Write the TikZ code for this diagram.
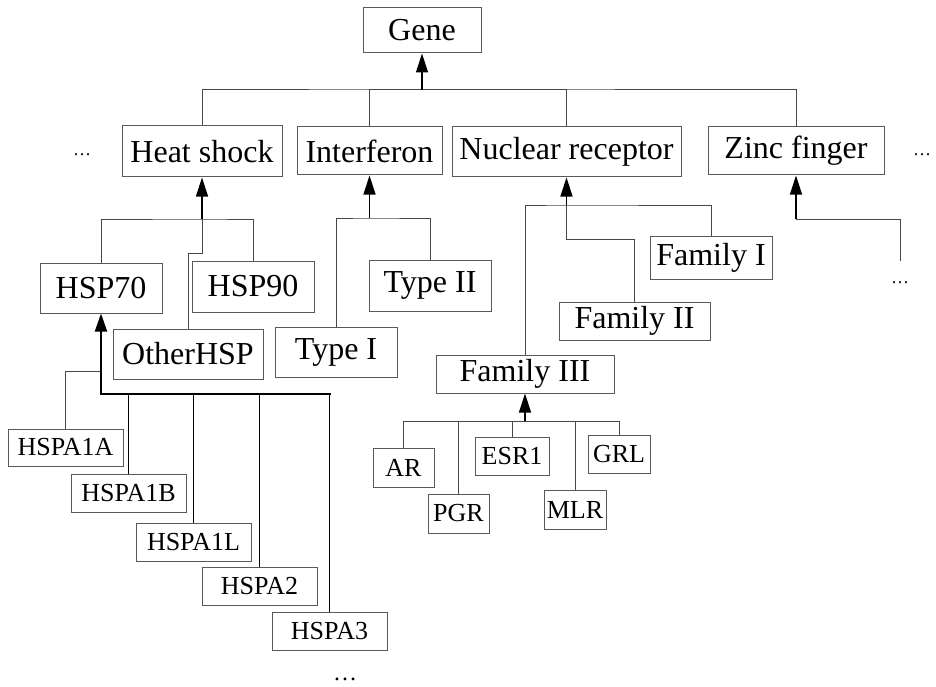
\documentclass[tikz,border=0pt]{standalone}
\usepackage{fontspec}
\setmainfont{Liberation Serif}
\usetikzlibrary{arrows.meta}

\begin{document}
\begin{tikzpicture}[x=1pt,y=-1pt,
  box/.style={draw=black!65, line width=1pt, fill=white, inner sep=0pt, align=center},
  big/.style={box, font=\fontsize{32}{36}\selectfont},
  small/.style={box, font=\fontsize{26}{30}\selectfont},
  conn/.style={draw=black!72, line width=1pt},
  arr/.style={draw=black, line width=1.3pt, -{Triangle[length=19pt,width=12pt]}},
  thickarr/.style={draw=black, line width=2pt, -{Triangle[length=18pt,width=12pt]}},
  dots/.style={font=\fontsize{18}{20}\selectfont, inner sep=0pt}
]
\useasboundingbox (0,0) rectangle (936,687);

% ---- root and top level families ----
\node[big, minimum width=118pt, minimum height=45pt] (gene) at (422,30.5) {Gene};
\node[big, minimum width=160pt, minimum height=51pt] (hs)   at (202,151.5) {Heat shock};
\node[big, minimum width=145pt, minimum height=48pt] (ifn)  at (369.5,151) {Interferon};
\node[big, minimum width=229pt, minimum height=50pt] (nr)   at (566.5,152) {Nuclear receptor};
\node[big, minimum width=176pt, minimum height=48pt] (zf)   at (796,151) {Zinc finger};
\node[dots] (dl) at (82,155) {…};
\node[dots] (dr) at (922,155) {…};

% ---- heat shock subfamilies ----
\node[big, minimum width=122pt, minimum height=50pt] (hsp70) at (101,288) {HSP70};
\node[big, minimum width=122pt, minimum height=51pt] (hsp90) at (253,286.5) {HSP90};
\node[big, minimum width=150pt, minimum height=50pt] (oth)   at (188,354) {OtherHSP};

% ---- interferon types ----
\node[big, minimum width=122pt, minimum height=51pt] (t2) at (430,285.5) {Type II};
\node[big, minimum width=122pt, minimum height=50pt] (t1) at (336,352) {Type I};

% ---- nuclear receptor families ----
\node[big, minimum width=122pt, minimum height=43pt] (f1) at (711,257.5) {Family I};
\node[big, minimum width=151pt, minimum height=38pt] (f2) at (634.5,321) {Family II};
\node[big, minimum width=178pt, minimum height=38pt] (f3) at (525,374) {Family III};

% ---- HSP70 members ----
\node[small, minimum width=115pt, minimum height=37pt] (a1a) at (65.5,447.5) {HSPA1A};
\node[small, minimum width=115pt, minimum height=38pt] (a1b) at (128.5,493) {HSPA1B};
\node[small, minimum width=115pt, minimum height=38pt] (a1l) at (193.5,542) {HSPA1L};
\node[small, minimum width=115pt, minimum height=38pt] (a2)  at (259.5,586) {HSPA2};
\node[small, minimum width=115pt, minimum height=38pt] (a3)  at (329.5,631) {HSPA3};
\node[dots, font=\fontsize{24}{26}\selectfont] (db) at (345,679) {…};

% ---- family III members ----
\node[small, minimum width=61pt, minimum height=39pt] (ar)   at (403.5,467.5) {AR};
\node[small, minimum width=61pt, minimum height=39pt] (pgr)  at (458.5,513.5) {PGR};
\node[small, minimum width=74pt, minimum height=38pt] (esr)  at (512,456) {ESR1};
\node[small, minimum width=62pt, minimum height=39pt] (mlr)  at (575,509.5) {MLR};
\node[small, minimum width=62pt, minimum height=38pt] (grl)  at (619,454) {GRL};
\node[dots] (dz) at (900,283) {…};

% ---- bus junctions ----
\coordinate (gbus)  at (422,90);
\coordinate (hsbus) at (202,219);
\coordinate (hsjog) at (202,253);
\coordinate (ifbus) at (369.5,218);
\coordinate (nrbus) at (566.5,205);
\coordinate (nrjog) at (566.5,239);
\coordinate (zfbus) at (796,219);
\coordinate (zfend) at (900,261);
\coordinate (h7bus) at (101,394);
\coordinate (h7end) at (329.5,394);
\coordinate (h7a)   at (101,371);
\coordinate (f3bus) at (525,421);

% Gene level
\draw[conn] (hs.north) |- (gbus) -| (zf.north);
\draw[conn] (ifn.north) |- (gbus);
\draw[conn] (nr.north) |- (gbus);
\draw[arr] (gbus) -- (gene.south);

% Heat shock level
\draw[conn] (hsp70.north) |- (hsbus) -| (hsp90.north);
\draw[conn] (hsbus) -- (hsjog) -| (oth.north);
\draw[arr] (hsbus) -- (hs.south);

% Interferon level
\draw[conn] (t1.north) |- (ifbus) -| (t2.north);
\draw[arr] (ifbus) -- (ifn.south);

% Nuclear receptor level
\draw[conn] (f3.north) |- (nrbus) -| (f1.north);
\draw[conn] (nrbus) -- (nrjog) -| (f2.north);
\draw[arr] (nrbus) -- (nr.south);

% Zinc finger level
\draw[conn] (zfbus) -| (zfend);
\draw[arr] (zfbus) -- (zf.south);

% HSP70 members
\draw[conn] (h7a) -| (a1a.north);
\draw[black, line width=1pt] (a1b.north) |- (h7bus);
\draw[black, line width=1pt] (a1l.north) |- (h7bus);
\draw[black, line width=1pt] (a2.north) |- (h7bus);
\draw[black, line width=1pt] (a3.north) -- (h7end);
\draw[black, line width=2pt, line cap=rect] (h7bus) -- (h7end);
\draw[thickarr] (h7bus) -- (hsp70.south);

% Family III members
\draw[conn] (ar.north) |- (f3bus) -| (grl.north);
\draw[conn] (pgr.north) |- (f3bus);
\draw[conn] (esr.north) |- (f3bus);
\draw[conn] (mlr.north) |- (f3bus);
\draw[arr] (f3bus) -- (f3.south);
\end{tikzpicture}
\end{document}
